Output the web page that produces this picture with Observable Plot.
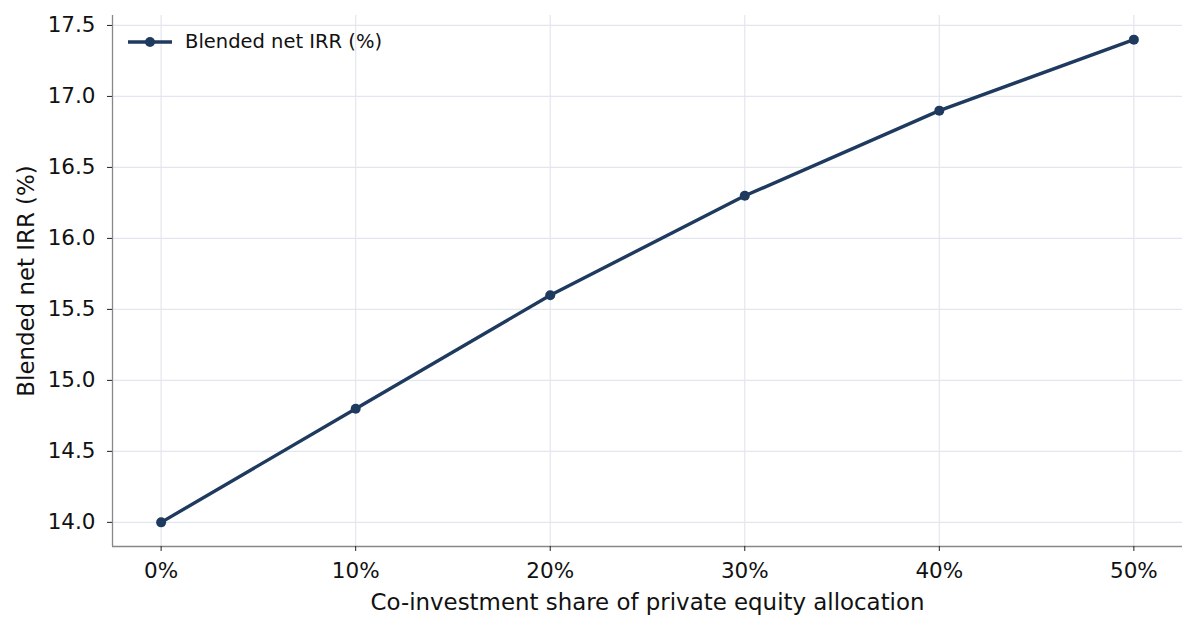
<!DOCTYPE html>
<html>
<head>
<meta charset="utf-8">
<script src="https://cdn.jsdelivr.net/npm/d3@7"></script>
<script src="https://cdn.jsdelivr.net/npm/@observablehq/plot@0.6"></script>
<style>
  html, body { margin: 0; padding: 0; background: #fff; }
  #wrap { position: relative; width: 1196px; height: 630px; font-family: "DejaVu Sans", sans-serif; }
  #legend { position: absolute; left: 128px; top: 30px; display: flex; align-items: center; font-size: 19.5px; color: #111; }
  #legend svg { margin-right: 13px; }
</style>
</head>
<body>
<div id="wrap"><div id="legend"></div></div>
<script>
const shares = [0, 10, 20, 30, 40, 50];
const irr = [14.0, 14.8, 15.6, 16.3, 16.9, 17.4];
const xTicks = [0, 10, 20, 30, 40, 50];
const yTicks = [14.0, 14.5, 15.0, 15.5, 16.0, 16.5, 17.0, 17.5];
const seriesName = "Blended net IRR (%)";
const xLabel = "Co-investment share of private equity allocation";
const yLabel = "Blended net IRR (%)";

const xDomain = [-2.5, 52.5];
const yDomain = [13.83, 17.57];
const lineColor = "#1f3a5f";
const gridColor = "#e3e6ee";
const spineColor = "#888888";

const data = shares.map((s, i) => ({share: s, irr: irr[i]}));

const chart = Plot.plot({
  width: 1196,
  height: 630,
  marginLeft: 112,
  marginRight: 14,
  marginTop: 15,
  marginBottom: 84,
  style: {fontFamily: "DejaVu Sans, sans-serif", fontSize: "21.5px", color: "#111", background: "#fff"},
  x: {domain: xDomain},
  y: {domain: yDomain},
  marks: [
    Plot.gridX(xTicks, {stroke: gridColor, strokeOpacity: 1, strokeWidth: 1.2}),
    Plot.gridY(yTicks, {stroke: gridColor, strokeOpacity: 1, strokeWidth: 1.2}),
    Plot.ruleX([xDomain[0]], {stroke: spineColor, strokeWidth: 1.3}),
    Plot.ruleY([yDomain[0]], {stroke: spineColor, strokeWidth: 1.3}),
    Plot.axisX(xTicks, {tickFormat: d => d + "%", tickSize: 5, tickPadding: 11, stroke: "#222",
      label: null, fontSize: 21.5}),
    Plot.axisY(yTicks, {tickFormat: d3.format(".1f"), tickSize: 5, tickPadding: 12, stroke: "#222",
      label: null, fontSize: 21.5}),
    Plot.text([xLabel], {text: d => d, frameAnchor: "bottom", dy: 56, lineAnchor: "middle", textAnchor: "middle", fontSize: 22.9, fill: "#111"}),
    Plot.text([yLabel], {text: d => d, frameAnchor: "left", dx: -86, rotate: -90, lineAnchor: "middle", textAnchor: "middle", fontSize: 22.9, fill: "#111"}),
    Plot.line(data, {x: "share", y: "irr", stroke: lineColor, strokeWidth: 3.4}),
    Plot.dot(data, {x: "share", y: "irr", fill: lineColor, r: 5})
  ]
});
document.getElementById("wrap").prepend(chart);

const lg = document.getElementById("legend");
lg.innerHTML = `<svg width="44" height="12"><line x1="0" y1="6" x2="44" y2="6" stroke="${lineColor}" stroke-width="3.4"/><circle cx="22" cy="6" r="5" fill="${lineColor}"/></svg><span>${seriesName}</span>`;
</script>
</body>
</html>
